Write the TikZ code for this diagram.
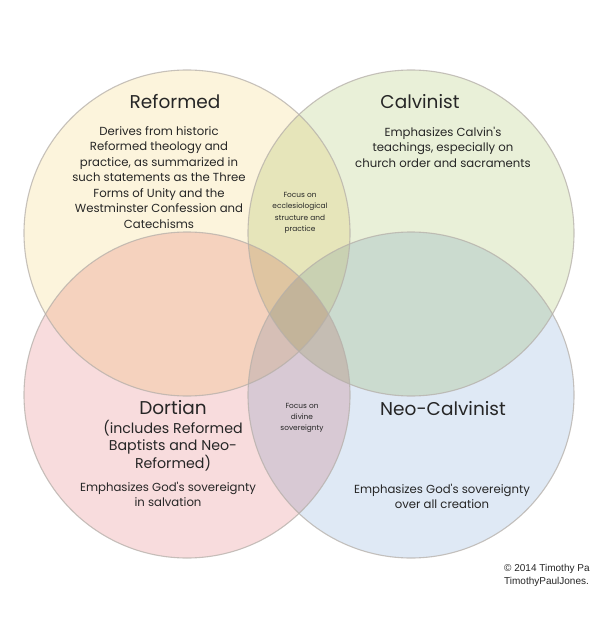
\documentclass[tikz,border=0pt]{standalone}
\usepackage{fontspec}
\setmainfont{Poppins}
\newfontfamily\notefont{Liberation Sans}
\usepackage{xcolor}
\usepackage{tikz}
\definecolor{giallo}{HTML}{FCF4DC}
\definecolor{verde}{HTML}{E9F0D8}
\definecolor{rosa}{HTML}{F8DCDD}
\definecolor{celeste}{HTML}{DFE9F5}
\definecolor{bordo}{HTML}{B5AFA9}
\definecolor{testo}{HTML}{262626}
\tikzset{
  titolo/.style={text=testo, font=\fontsize{18.5}{21}\selectfont},
  corpo/.style={text=testo, align=center, font=\fontsize{11.7}{15.5}\selectfont},
  piccolo/.style={text=testo, align=center, font=\fontsize{7.4}{11.3}\selectfont},
  bordocerchio/.style={draw=bordo, line width=1.1pt, draw opacity=0.75}
}

\begin{document}
\begin{tikzpicture}[x=1pt, y=-1pt]
  \useasboundingbox (0,0) rectangle (591,631);
  \fill[white] (0,0) rectangle (591,631);
  % Fill the four circles, overlaps multiply
  \begin{scope}[blend group=multiply]
    \fill[giallo] (187,233) circle (163);
    \fill[verde] (411,233) circle (163);
    \fill[rosa] (187,395) circle (163);
    \fill[celeste] (411,395) circle (163);
  \end{scope}
  % Outlines
  \draw[bordocerchio] (187,233) circle (163);
  \draw[bordocerchio] (411,233) circle (163);
  \draw[bordocerchio] (187,395) circle (163);
  \draw[bordocerchio] (411,395) circle (163);
  % Reformed
  \node[titolo] (reformed) at (175,102) {Reformed};
  \node[corpo] (reformedtxt) at (159,177.5) {Derives from historic\\Reformed theology and\\practice, as summarized in\\such statements as the Three\\Forms of Unity and the\\Westminster Confession and\\Catechisms};
  % Calvinist
  \node[titolo] (calvinist) at (420,102) {Calvinist};
  \node[corpo] (calvinisttxt) at (443,147) {Emphasizes Calvin\textquotesingle s\\teachings, especially on\\church order and sacraments};
  % Reformed and Calvinist
  \node[piccolo] (ecclesio) at (300,213) {Focus on\\ecclesiological\\structure and\\practice};
  % Dortian
  \node[titolo] (dortian) at (173,408) {Dortian};
  \node[text=testo, align=center, font=\fontsize{14.2}{17.5}\selectfont] (dortiansub) at (173,445.5) {(includes Reformed\\Baptists and Neo-\\Reformed)};
  \node[corpo] (dortiantxt) at (168,494.5) {Emphasizes God\textquotesingle s sovereignty\\in salvation};
  % Dortian and Neo-Calvinist
  \node[piccolo] (divine) at (302,418) {Focus on\\divine\\sovereignty};
  % Neo-Calvinist
  \node[titolo] (neocalvinist) at (443,409) {Neo-Calvinist};
  \node[corpo] (neocalvinisttxt) at (442,496.5) {Emphasizes God\textquotesingle s sovereignty\\over all creation};
  % Credit
  \node[anchor=north west, inner sep=0pt, align=left, text=testo, font=\notefont\fontsize{10}{13}\selectfont] (credit) at (504,564) {© 2014 Timothy Pa\\TimothyPaulJones.};
\end{tikzpicture}
\end{document}
